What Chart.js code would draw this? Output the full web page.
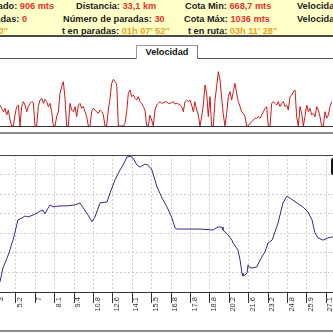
<!DOCTYPE html>
<html>
<head>
<meta charset="utf-8">
<script src="https://cdn.jsdelivr.net/npm/chart.js@4/dist/chart.umd.min.js"></script>
<style>
  html, body { margin: 0; padding: 0; background: #fff; }
  #wrap { position: relative; width: 333px; height: 333px; overflow: hidden; background: #fff;
          font-family: "Liberation Sans", Arial, sans-serif; }
  .abs { position: absolute; }
  #header { left: 0; top: 0; width: 333px; height: 35px; background: #ffffc8; }
  .txt { position: absolute; font-size: 9.2px; font-weight: bold; line-height: 11px; white-space: nowrap; color: #222; }
  .r { color: #e8332a; }
  .o { color: #e8a21e; }
  .line { position: absolute; left: 0; width: 333px; z-index: 5; }
  #tab { left: 136px; top: 45px; width: 60px; height: 13px; background: #fff; border: 1px solid #999;
         border-bottom: none; border-right-color: #777; z-index: 6; font-size: 9.2px; font-weight: bold;
         line-height: 13px; text-align: center; color: #111; }
  #speedCanvas { position: absolute; left: 0; top: 58px; }
  #elevCanvas { position: absolute; left: -12px; top: 155px; }
  #legendBox { left: 331px; top: 158px; width: 6px; height: 17px; background: #151515; border-radius: 2px; z-index: 6; }
</style>
</head>
<body>
<div id="wrap">
  <div id="header" class="abs"></div>
  <div class="line" style="top:35px;height:2px;background:#4a4a4a"></div>

  <!-- fila 1 -->
  <div class="txt" style="right:279px;top:1px">Desnivel acumulado: <span class="r">906 mts</span></div>
  <div class="txt" style="left:76px;top:1px">Distancia: <span class="r">33,1 km</span></div>
  <div class="txt" style="left:185px;top:1px">Cota Min: <span class="r">668,7 mts</span></div>
  <div class="txt" style="left:297px;top:1px">Velocidad media: <span class="r">10,4 km/h</span></div>
  <!-- fila 2 -->
  <div class="txt" style="right:306px;top:13.5px">Bajadas: <span class="r">0</span></div>
  <div class="txt" style="left:63px;top:13.5px">Número de paradas: <span class="r">30</span></div>
  <div class="txt" style="left:184px;top:13.5px">Cota Máx: <span class="r">1036 mts</span></div>
  <div class="txt" style="left:297px;top:13.5px">Velocidad máx: <span class="r">47,9 km/h</span></div>
  <!-- fila 3 -->
  <div class="txt" style="right:325px;top:26px">t total: <span class="o">04h 19' 20''</span></div>
  <div class="txt" style="left:62px;top:26px">t en paradas: <span class="o">01h 07' 52''</span></div>
  <div class="txt" style="left:188px;top:26px">t en ruta: <span class="o">03h 11' 28''</span></div>

  <div id="tab" class="abs">Velocidad</div>
  <div class="line" style="top:58px;height:1px;background:#555"></div>
  <canvas id="speedCanvas" width="333" height="68"></canvas>
  <div class="line" style="top:126px;height:1px;background:#333"></div>
  <div class="line" style="top:132px;height:2px;background:#8c8c8c"></div>

  <div class="line" style="top:155px;height:1px;background:#444"></div>
  <canvas id="elevCanvas" width="357" height="175"></canvas>
  <div id="legendBox" class="abs"></div>
  <div class="line" style="top:330px;height:2px;background:#8c8c8c"></div>
</div>

<script>
// velocidad (km/h), una muestra por intervalo
const speedKmh = [
  18.5,15.6,12.6,15.6,9.7,14.1,5.3,0,0,9.7,17.1,18.5,0,17.1,21.5,18.5,12.6,17.1,20,21.5,
  20.6,0,0,17.1,22.9,24.4,20,23.5,21.5,17.1,20,12.6,0,0,8.2,12.6,28.8,34.7,39.1,24.4,
  0,0,20,14.1,12.6,17.1,8.2,18.5,20,15.6,17.1,12.6,8.2,0,0,12.6,15.6,14.1,12.6,11.2,
  14.1,12.6,9.7,0,0,14.1,24.4,37.6,41.2,39.1,37.6,0,0,0,0,2.4,12.6,28.8,31.8,25.9,
  27.3,24.4,22.9,25.9,21.5,20,17.1,14.1,0,0,9.7,5.3,0,14.1,18.5,20,21.5,20,20.6,21.2,
  21.5,20,20,20.6,21.5,19.4,20,19.4,18.5,17.1,12.6,21.5,22.9,21.5,22.9,18.5,12.6,21.5,14.1,9.7,
  0,8.2,18.5,36.2,28.8,8.2,25.9,0,0,22.9,34.7,47.9,40.6,24.4,9.7,0,11.2,25.9,30.3,22.9,
  30.3,37.6,28.8,21.5,17.1,12.6,11.2,8.2,0,0,2.4,3.8,5.3,6.8,6.8,8.2,6.8,9.7,12.6,15.6,
  17.1,0,0,20,21.5,20,18.5,21.5,17.1,20,21.5,17.1,18.5,14.1,25.9,27.3,30.3,31.8,8.2,0,
  17.1,11.2,0,8.2,18.5,12.6,15.6,9.7,11.2,8.2,17.1,14.1,8.2,0,0,12.6,6.8,9.7,17.1,21.5
];

// perfil de altitud: posición en el eje (10 = una marca) y cota en metros
const elevPos = [1.75,3.3,5.4,6.4,7.9,8.5,11,13.1,14.6,16.2,18.8,20.8,22.4,23.9,24.9,26.5,27.5,29.1,32.7,36.3,
  40.4,43,44,47.1,49.2,50.7,53.3,56.9,58.5,61,63.6,65.2,67.2,68.8,70.3,72.4,73.9,76.5,78,80.1,
  82.7,85.3,87.8,90.4,92,93,99.7,104.8,111.5,114.1,116.2,116.7,119.3,121.3,121.9,124.4,125.5,126.5,127,128,
  129.1,129.6,130.6,132.2,134.2,135.8,138.3,139.9,142,143.5,145.1,147.6,149.7,151.2,154.8,157.9,160.5,162.6,164.1,165.7,
  168.3,170.8,173.4];
const elevM = [651,694,724,740,770,779,841,847,853,850,856,862,868,871,859,877,887,881,884,884,
  887,893,884,856,835,850,893,896,924,963,994,1009,1034,1036,1031,1009,1003,1012,1009,994,
  942,908,881,847,816,813,813,813,810,819,819,810,795,779,770,749,718,678,669,672,
  678,703,694,694,697,718,743,770,779,804,832,893,914,908,893,881,865,841,801,786,
  779,786,789];

// etiquetas del eje (km recorridos)
const kmLabels = ['3','5.2','7','8.1','9.4','10.8','12.6','14.1','15.5','16.8','17.8','18.8','20.2','21.6','23.2','24.8','25.9','27.1'];

Chart.defaults.font.family = '"Liberation Sans", Arial, sans-serif';

// grafica de velocidad
new Chart(document.getElementById('speedCanvas'), {
  type: 'line',
  data: {
    datasets: [{
      data: speedKmh.map((v, i) => ({ x: i, y: v })),
      borderColor: '#cc1a1a',
      borderWidth: 1,
      pointRadius: 0,
      tension: 0
    }]
  },
  options: {
    responsive: false,
    animation: false,
    devicePixelRatio: 1,
    layout: { padding: 0 },
    plugins: { legend: { display: false }, tooltip: { enabled: false } },
    scales: {
      x: { type: 'linear', display: false, min: 0, max: 199.8 },
      y: { display: false, min: 0, max: 60 }
    }
  }
});

// grafica de altitud
new Chart(document.getElementById('elevCanvas'), {
  type: 'line',
  data: {
    datasets: [{
      data: elevPos.map((p, i) => ({ x: p, y: elevM[i] })),
      borderColor: '#2e2e86',
      borderWidth: 1,
      pointRadius: 0,
      tension: 0
    }]
  },
  options: {
    responsive: false,
    animation: false,
    devicePixelRatio: 1,
    layout: { padding: 0 },
    plugins: { legend: { display: false }, tooltip: { enabled: false } },
    scales: {
      x: {
        type: 'linear',
        min: -4.433,
        max: 179.59,
        afterBuildTicks: (axis) => { axis.ticks = kmLabels.map((_, i) => ({ value: i * 10 })); },
        afterFit: (axis) => { axis.height = 38; axis.paddingLeft = 0; axis.paddingRight = 0; },
        ticks: {
          autoSkip: false,
          maxRotation: 90,
          minRotation: 90,
          labelOffset: 4,
          padding: -6,
          color: '#333',
          font: { size: 7.5 },
          callback: (v) => kmLabels[Math.round(v / 10)]
        },
        grid: { color: '#cdcdcd', tickColor: '#333', tickLength: 11, tickBorderDash: [] },
        border: { display: true, color: '#333', width: 1, dash: [2, 2] }
      },
      y: {
        min: 620,
        max: 1040,
        afterFit: (axis) => { axis.width = 0; },
        ticks: { display: false, stepSize: 60 },
        grid: { color: '#cdcdcd', drawTicks: false },
        border: { display: false, dash: [2, 2] }
      }
    }
  }
});
</script>
</body>
</html>
